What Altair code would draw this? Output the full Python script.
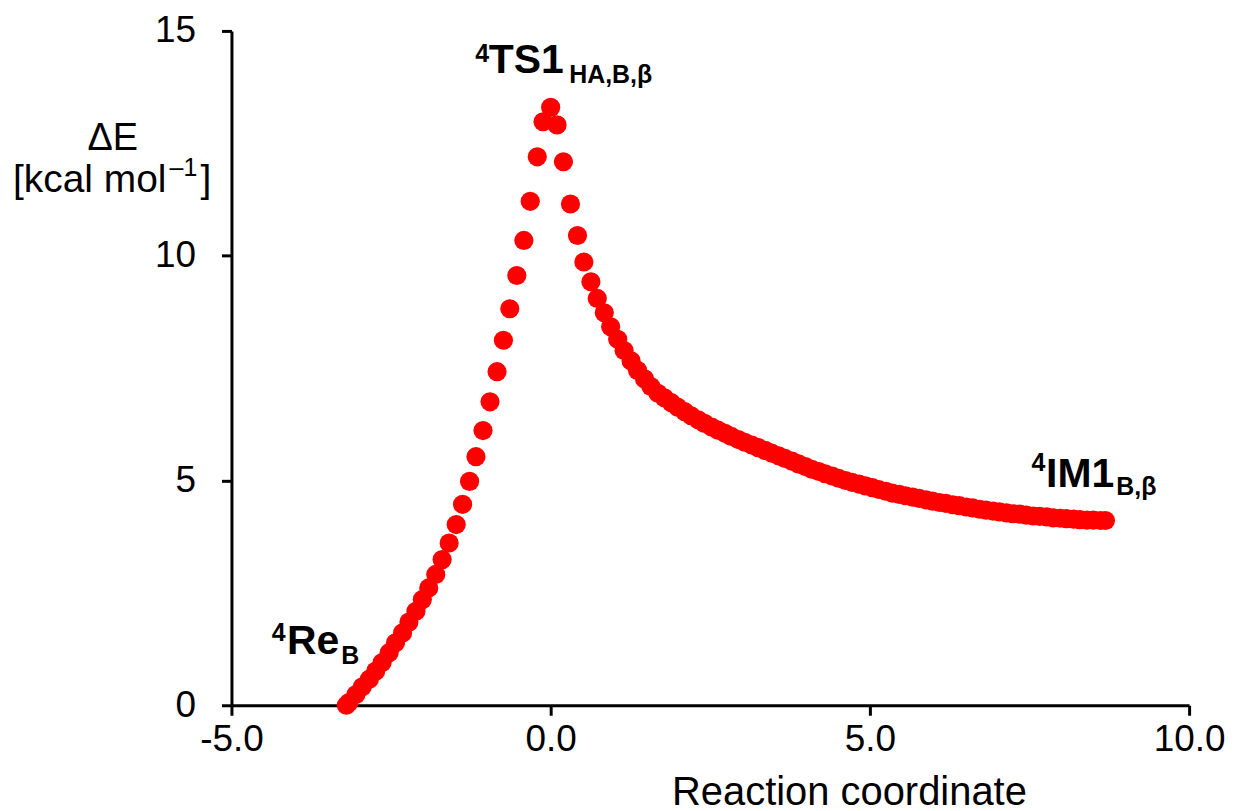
import altair as alt
import pandas as pd

# Reaction path (IRC)
x_left = [0.00, -0.12, -0.21, -0.32, -0.42, -0.53, -0.64, -0.74, -0.84, -0.95,
          -1.06, -1.17, -1.27, -1.38, -1.48, -1.59, -1.70, -1.80, -1.91, -2.01,
          -2.11, -2.22, -2.32, -2.43, -2.53, -2.64, -2.74, -2.84, -2.95, -3.05,
          -3.16, -3.20]
y_left = [13.30, 12.98, 12.20, 11.21, 10.34, 9.56, 8.82, 8.12, 7.42, 6.75,
          6.11, 5.53, 4.98, 4.47, 4.02, 3.61, 3.24, 2.91, 2.61, 2.35,
          2.09, 1.85, 1.61, 1.39, 1.17, 0.95, 0.76, 0.58, 0.41, 0.24,
          0.06, 0.00]

x_right = [0.10, 0.20, 0.31, 0.42, 0.52, 0.63, 0.73, 0.84, 0.94, 1.05,
           1.15, 1.26, 1.36, 1.47, 1.57, 1.68, 1.78, 1.89, 1.99, 2.10,
           2.20, 2.31, 2.41, 2.52, 2.62, 2.73, 2.83, 2.94, 3.04, 3.15,
           3.25, 3.36, 3.46, 3.57, 3.67, 3.78, 3.88, 3.99, 4.09, 4.20,
           4.30, 4.41, 4.51, 4.62, 4.72, 4.83, 4.93, 5.04, 5.14, 5.25,
           5.35, 5.46, 5.56, 5.67, 5.77, 5.88, 5.98, 6.09, 6.19, 6.30,
           6.40, 6.51, 6.61, 6.72, 6.82, 6.93, 7.03, 7.14, 7.24, 7.35,
           7.45, 7.56, 7.66, 7.77, 7.87, 7.98, 8.08, 8.19, 8.29, 8.40,
           8.50, 8.61, 8.69]
y_right = [12.91, 12.09, 11.15, 10.45, 9.86, 9.42, 9.05, 8.73, 8.42, 8.14,
           7.89, 7.66, 7.45, 7.26, 7.09, 6.94, 6.84, 6.73, 6.63, 6.53,
           6.44, 6.35, 6.27, 6.19, 6.12, 6.05, 5.98, 5.91, 5.85, 5.79,
           5.73, 5.67, 5.61, 5.55, 5.49, 5.43, 5.37, 5.31, 5.25, 5.20,
           5.15, 5.10, 5.05, 5.00, 4.96, 4.92, 4.88, 4.84, 4.80, 4.76,
           4.72, 4.69, 4.66, 4.63, 4.60, 4.57, 4.54, 4.51, 4.49, 4.46,
           4.44, 4.41, 4.39, 4.36, 4.34, 4.32, 4.30, 4.28, 4.26, 4.25,
           4.23, 4.21, 4.20, 4.19, 4.17, 4.16, 4.15, 4.14, 4.13, 4.12,
           4.12, 4.11, 4.11]

x_ticks = [-5, 0, 5, 10]
y_ticks = [0, 5, 10, 15]

# annotation text pieces
ann_text = ["4", "TS1", "HA,B,β", "4", "IM1", "B,β", "4", "Re", "B"]
ann_x = [-1.18, -0.97, 0.29, 7.53, 7.76, 8.86, -4.37, -4.13, -3.28]
ann_y = [14.30, 14.07, 13.85, 5.20, 4.86, 4.68, 1.43, 1.13, 0.91]
ann_kind = ["sup", "main", "sub", "sup", "main", "sub", "sup", "main", "sub"]

# y-axis title pieces
ytitle_line1 = "ΔE"
ytitle_line2 = "[kcal mol"
ytitle_sup = "–1"
ytitle_close = "]"
x_title = "Reaction coordinate"

FONT = "Liberation Sans"

df = pd.DataFrame({"x": x_left[::-1] + x_right, "y": y_left[::-1] + y_right})
ann = pd.DataFrame({"t": ann_text, "x": ann_x, "y": ann_y, "k": ann_kind})

xs = alt.Scale(domain=[-5, 10], nice=False, zero=False)
ys = alt.Scale(domain=[0, 15], nice=False)

points = alt.Chart(df).mark_circle(color="#ff0000", opacity=1, size=370).encode(
    x=alt.X("x:Q", scale=xs, axis=alt.Axis(
        values=x_ticks, labelFlush=False,
        labelExpr="datum.value < 0 ? '-' + format(-datum.value, '.1f') : format(datum.value, '.1f')",
        title=x_title, titleX=619, titleY=67, titleAlign="center",
        titleBaseline="top", titleFontSize=40, labelPadding=6)),
    y=alt.Y("y:Q", scale=ys, axis=alt.Axis(
        values=y_ticks, format="d", labelFlush=False, title="",
        labelPadding=26)),
)

def label_layer(kind, size):
    return alt.Chart(ann).transform_filter(alt.datum.k == kind).mark_text(
        font=FONT, fontWeight="bold", fontSize=size, align="left",
        baseline="alphabetic", color="black"
    ).encode(x=alt.X("x:Q", scale=xs), y=alt.Y("y:Q", scale=ys), text="t:N")

def title_piece(text, px, py, size, align):
    return alt.Chart(pd.DataFrame({"t": [text]})).mark_text(
        font=FONT, fontSize=size, align=align, baseline="alphabetic",
        color="black"
    ).encode(x=alt.value(px), y=alt.value(py), text="t:N")

chart = alt.layer(
    points,
    label_layer("sup", 25),
    label_layer("main", 41),
    label_layer("sub", 25),
    title_piece(ytitle_line1, -119, 119, 38, "center"),
    title_piece(ytitle_line2, -219, 161, 39, "left"),
    title_piece(ytitle_sup, -62, 145, 25, "left"),
    title_piece(ytitle_close, -31, 161, 39, "left"),
).properties(
    width=960, height=676,
    autosize=alt.AutoSizeParams(type="none"),
    padding={"left": 224, "top": 22, "right": 40, "bottom": 100},
).configure_view(stroke=None).configure_axis(
    grid=False, domainColor="black", domainWidth=3, tickColor="black",
    tickWidth=3, tickSize=10, labelFont=FONT, labelFontSize=37,
    labelColor="black", titleFont=FONT, titleColor="black",
    titleFontWeight="normal",
)

chart.save("out.html", embed_options={"renderer": "svg", "actions": False})
